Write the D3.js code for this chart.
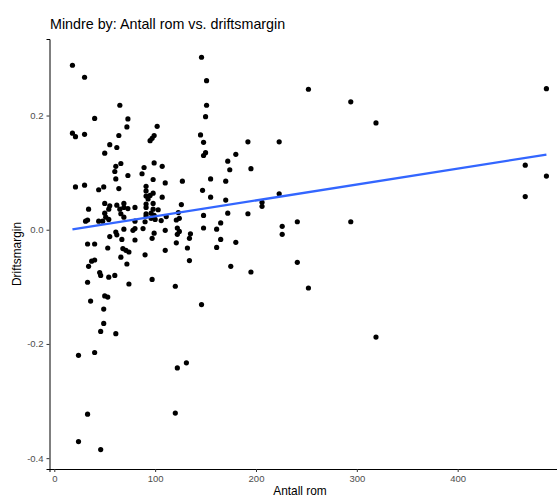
<!DOCTYPE html>
<html>
<head>
<meta charset="utf-8">
<script src="https://cdn.jsdelivr.net/npm/d3@7"></script>
<style>
    body { margin: 0; background: #fff; }
    text { font-family: "Liberation Sans", Arial, sans-serif; }
    .tick text { fill: #4d4d4d; font-size: 9.5px; }
    .tick line { stroke: #333; }
    .domain { stroke: #000; stroke-width: 1px; }
</style>
</head>
<body>
<div id="chart"></div>
<script>
// Antall rom (x) og driftsmargin (y), lest av figuren
var rooms = [18,30,65,40,73,72,102,18,21,30,64,99,97,95,55,62,50,61,66,60,73,61,21,30,44,49,64,
    87,89,99,107,98,110,91,91,91,95,98,93,107,98,91,91,98,103,91,96,99,91,96,100,90,106,111,88,110,
    99,97,90,110,97,50,55,54,62,65,69,69,73,80,34,50,51,54,44,48,33,31,66,69,80,69,61,62,67,80,55,33,
    40,53,68,71,74,66,72,80,78,40,37,34,33,45,46,54,60,74,120,50,53,36,146,49,49,46,61,24,40,122,131,
    120,33,24,46,319,146,151,151,150,145,148,150,148,172,174,180,192,195,223,252,294,319,488,467,488,
    467,294,241,241,252,226,226,223,206,206,195,175,180,172,192,165,161,148,148,165,161,155,170,155,
    170,147,127,126,132,134,135,134,122,124,122,121,123,124,121]
var margin_values = [0.288,0.267,0.218,0.195,0.194,0.180,0.181,0.169,0.163,0.167,0.165,0.165,0.160,
    0.156,0.149,0.144,0.134,0.111,0.116,0.102,0.095,0.089,0.075,0.078,0.070,0.075,0.072,0.098,0.109,
    0.117,0.111,0.088,0.082,0.076,0.068,0.059,0.060,0.064,0.054,0.057,0.046,0.045,0.039,0.036,0.035,
    0.028,0.029,0.025,0.024,0.020,0.018,0.014,0.016,0.023,0.002,-0.001,-0.006,-0.015,-0.044,-0.036,
    -0.087,0.046,0.042,0.036,0.043,0.036,0.046,0.039,0.037,0.039,0.036,0.029,0.022,0.018,0.015,0.015,
    0.017,0.015,0.028,0.022,0.015,0.001,-0.004,-0.009,-0.017,-0.018,-0.012,-0.025,-0.025,-0.032,-0.033,
    -0.036,-0.039,-0.048,-0.060,0.002,-0.001,-0.053,-0.055,-0.064,-0.092,-0.075,-0.080,-0.083,-0.080,
    -0.095,-0.099,-0.116,-0.118,-0.125,-0.131,-0.139,-0.164,-0.178,-0.182,-0.220,-0.215,-0.242,-0.233,
    -0.321,-0.323,-0.371,-0.385,-0.188,0.302,0.261,0.218,0.198,0.166,0.153,0.135,0.130,0.120,0.105,
    0.132,0.154,0.107,0.154,0.246,0.224,0.187,0.247,0.113,0.094,0.058,0.014,0.014,-0.057,-0.102,0.006,
    -0.008,0.063,0.048,0.041,-0.074,-0.064,-0.022,0.029,0.028,0.012,0.001,0.003,0.025,-0.017,-0.031,
    0.089,0.085,0.057,0.052,0.069,0.085,0.044,-0.032,-0.054,-0.007,-0.015,0.003,-0.003,-0.008,-0.023,
    0.030,0.020,0.017]

var xTicks = [0, 100, 200, 300, 400]
var yTicks = [-0.4, -0.2, 0.0, 0.2]

var width = 557, height = 498
var panel = { left: 49.5, right: 557, top: 39, bottom: 469 }

var svg = d3.select("#chart").append("svg")
    .attr("width", width)
    .attr("height", height)

var x = d3.scaleLinear()
    .domain([-4.76, 498.5])
    .range([panel.left, panel.right])

var y = d3.scaleLinear()
    .domain([-0.419, 0.334])
    .range([panel.bottom, panel.top])

var points = rooms.map(function(d, i) { return { x: d, y: margin_values[i] } })

// lineær regresjon (som geom_smooth(method = "lm"))
var mx = d3.mean(points, d => d.x), my = d3.mean(points, d => d.y)
var sxy = d3.sum(points, d => (d.x - mx) * (d.y - my))
var sxx = d3.sum(points, d => (d.x - mx) * (d.x - mx))
var slope = sxy / sxx
var intercept = my - slope * mx
var xExt = d3.extent(rooms)

// punkter
svg.append("g")
    .selectAll("circle")
    .data(points)
    .enter()
    .append("circle")
    .attr("cx", d => x(d.x))
    .attr("cy", d => y(d.y))
    .attr("r", 2.6)
    .style("fill", "#000")

// regresjonslinje
svg.append("line")
    .attr("x1", x(xExt[0]))
    .attr("y1", y(intercept + slope * xExt[0]))
    .attr("x2", x(xExt[1]))
    .attr("y2", y(intercept + slope * xExt[1]))
    .style("stroke", "#3366FF")
    .style("stroke-width", 2.3)

// akser
svg.append("g")
    .attr("transform", "translate(0," + panel.bottom + ")")
    .call(d3.axisBottom(x).tickValues(xTicks).tickSizeOuter(0).tickSize(3).tickPadding(3))

svg.append("g")
    .attr("transform", "translate(" + panel.left + ",0)")
    .call(d3.axisLeft(y).tickValues(yTicks).tickSizeOuter(0).tickSize(3).tickPadding(3)
        .tickFormat(d => d.toFixed(1)))

svg.append("text")
    .attr("x", 50)
    .attr("y", 29)
    .style("font-size", "14.3px")
    .style("fill", "#000")
    .text("Mindre by: Antall rom vs. driftsmargin")

svg.append("text")
    .attr("x", 300)
    .attr("y", 495)
    .style("text-anchor", "middle")
    .style("font-size", "11.9px")
    .text("Antall rom")

svg.append("text")
    .attr("transform", "translate(21," + (panel.top + panel.bottom) / 2 + ") rotate(-90)")
    .style("text-anchor", "middle")
    .style("font-size", "11.9px")
    .text("Driftsmargin")
</script>
</body>
</html>
